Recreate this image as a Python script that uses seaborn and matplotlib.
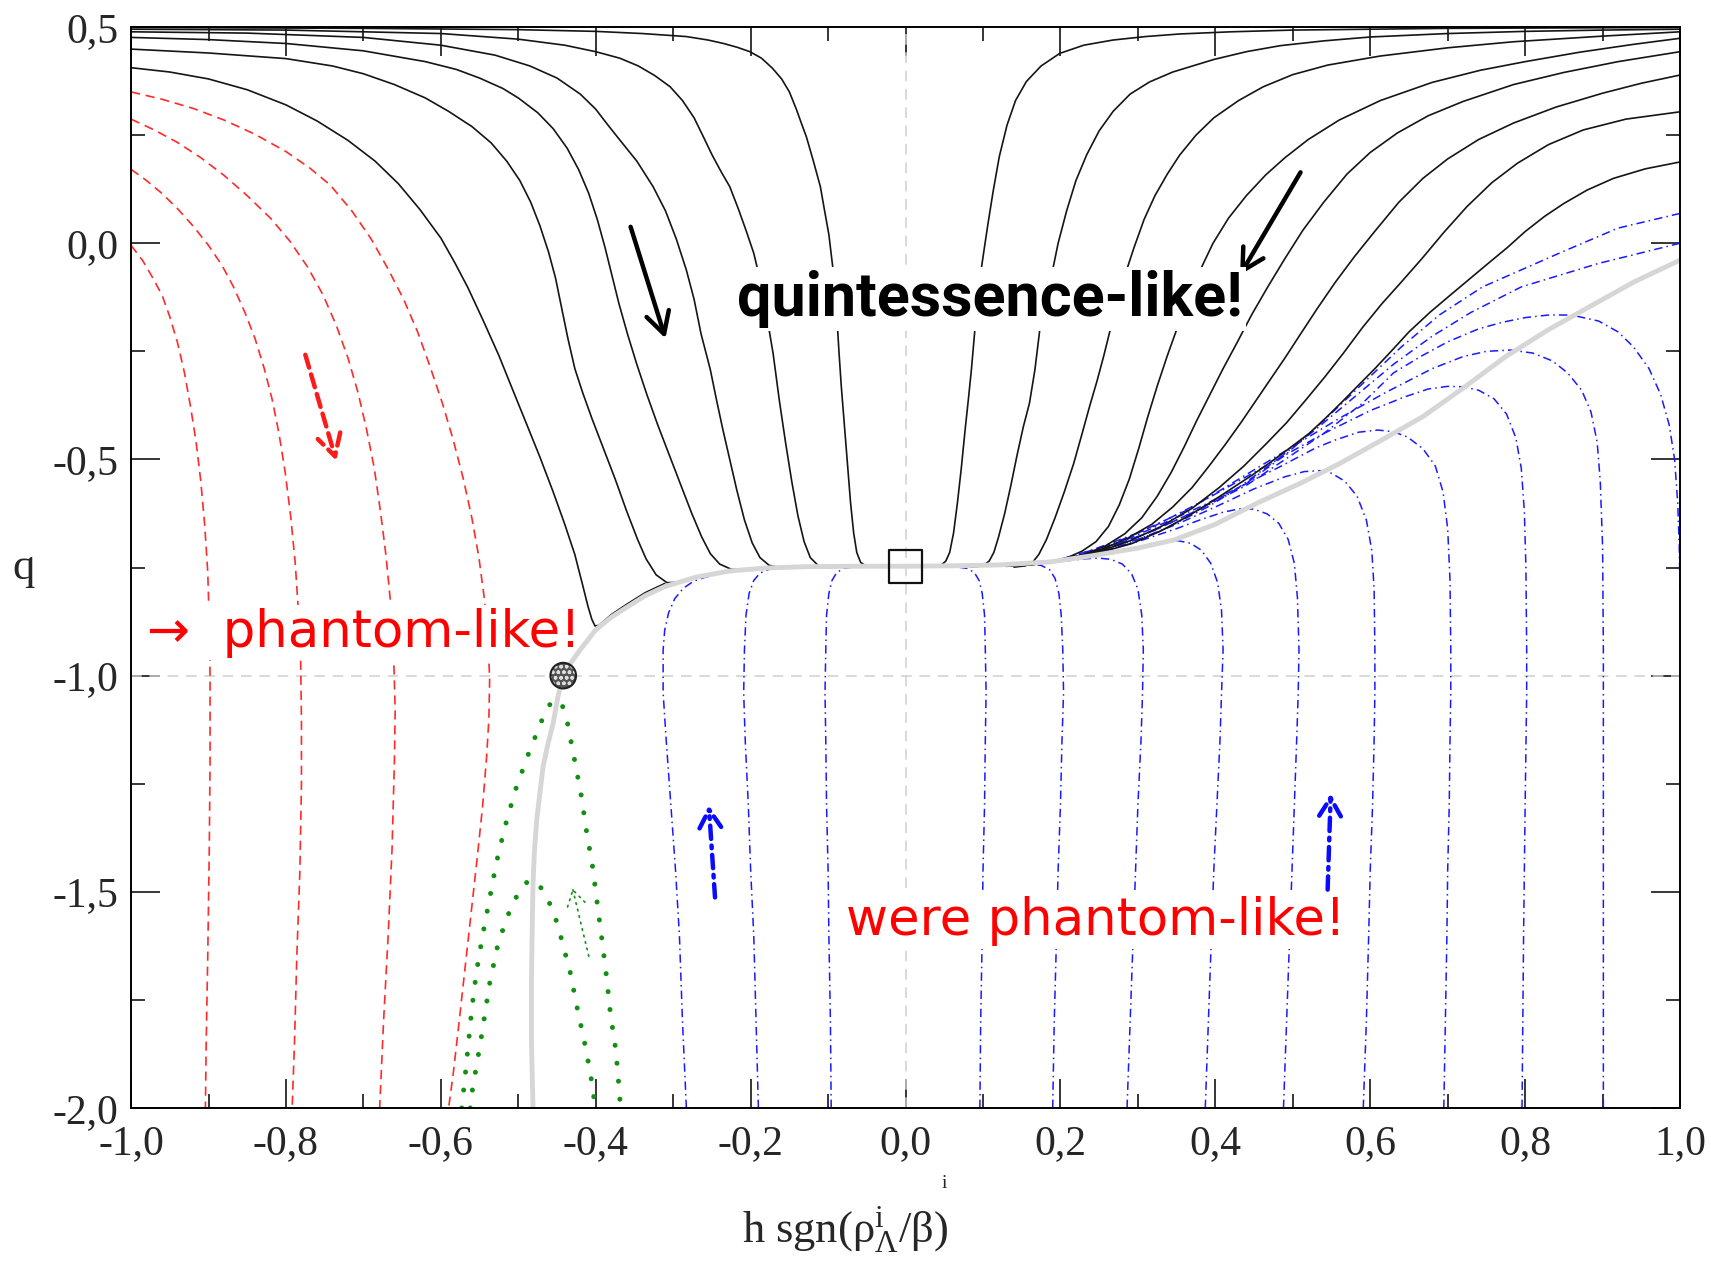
import matplotlib
matplotlib.use("Agg")
import matplotlib.pyplot as plt
import seaborn as sns

# ---------------- tick values ----------------
x_major = [-1.0, -0.8, -0.6, -0.4, -0.2, 0.0, 0.2, 0.4, 0.6, 0.8, 1.0]
x_minor = [-0.9, -0.7, -0.5, -0.3, -0.1, 0.1, 0.3, 0.5, 0.7, 0.9]
y_major = [0.5, 0.0, -0.5, -1.0, -1.5, -2.0]
y_minor = [0.25, -0.25, -0.75, -1.25, -1.75]
x_labels = ["-1,0", "-0,8", "-0,6", "-0,4", "-0,2", "0,0", "0,2", "0,4", "0,6", "0,8", "1,0"]
y_labels = ["0,5", "0,0", "-0,5", "-1,0", "-1,5", "-2,0"]

# ---------------- black trajectories (quintessence-like) ----------------
black_L1 = [(-1.0, 0.406), (-0.95, 0.396), (-0.90, 0.380), (-0.85, 0.355), (-0.80, 0.320),
            (-0.76, 0.283), (-0.72, 0.238), (-0.685, 0.19), (-0.655, 0.138), (-0.627, 0.078),
            (-0.60, 0.012), (-0.582, -0.045), (-0.565, -0.103), (-0.545, -0.18), (-0.525, -0.26),
            (-0.507, -0.34), (-0.49, -0.415), (-0.472, -0.495), (-0.455, -0.575), (-0.44, -0.65),
            (-0.427, -0.72), (-0.417, -0.79), (-0.41, -0.84), (-0.405, -0.87), (-0.401, -0.885),
            (-0.396, -0.884), (-0.38, -0.859), (-0.36, -0.835), (-0.336, -0.808), (-0.311, -0.787)]
black_L2 = [(-1.0, 0.449), (-0.90, 0.440), (-0.80, 0.427), (-0.74, 0.41), (-0.70, 0.392),
            (-0.66, 0.367), (-0.62, 0.336), (-0.59, 0.305), (-0.56, 0.27), (-0.535, 0.232),
            (-0.515, 0.19), (-0.498, 0.145), (-0.484, 0.095), (-0.472, 0.04), (-0.461, -0.02),
            (-0.452, -0.08), (-0.444, -0.15), (-0.436, -0.22), (-0.427, -0.29), (-0.417, -0.345),
            (-0.405, -0.405), (-0.39, -0.475), (-0.375, -0.545), (-0.36, -0.62), (-0.346, -0.685),
            (-0.335, -0.73), (-0.322, -0.767), (-0.308, -0.785), (-0.29, -0.784)]
black_L3 = [(-1.0, 0.476), (-0.90, 0.471), (-0.80, 0.462), (-0.70, 0.445), (-0.62, 0.42),
            (-0.58, 0.402), (-0.55, 0.382), (-0.52, 0.358), (-0.50, 0.336), (-0.475, 0.302),
            (-0.455, 0.265), (-0.437, 0.22), (-0.422, 0.17), (-0.409, 0.115), (-0.398, 0.055),
            (-0.388, -0.01), (-0.379, -0.075), (-0.370, -0.14), (-0.359, -0.21), (-0.347, -0.28),
            (-0.334, -0.35), (-0.32, -0.42), (-0.305, -0.49), (-0.29, -0.56), (-0.276, -0.625),
            (-0.263, -0.68), (-0.252, -0.718), (-0.24, -0.742), (-0.225, -0.754), (-0.205, -0.756)]
black_L4 = [(-1.0, 0.489), (-0.85, 0.486), (-0.70, 0.476), (-0.60, 0.458), (-0.53, 0.435),
            (-0.485, 0.41), (-0.45, 0.382), (-0.42, 0.345), (-0.40, 0.31), (-0.385, 0.275),
            (-0.369, 0.239), (-0.347, 0.19), (-0.326, 0.131), (-0.31, 0.075), (-0.296, 0.01),
            (-0.283, -0.062), (-0.273, -0.13), (-0.264, -0.21), (-0.256, -0.265), (-0.252, -0.293),
            (-0.244, -0.363), (-0.236, -0.43), (-0.227, -0.50), (-0.218, -0.57), (-0.208, -0.64),
            (-0.198, -0.693), (-0.188, -0.727), (-0.176, -0.745), (-0.16, -0.751), (-0.145, -0.750)]
black_L5 = [(-1.0, 0.495), (-0.80, 0.493), (-0.60, 0.485), (-0.50, 0.472), (-0.44, 0.458),
            (-0.40, 0.443), (-0.369, 0.428), (-0.345, 0.41), (-0.324, 0.388), (-0.304, 0.362),
            (-0.288, 0.33), (-0.273, 0.29), (-0.261, 0.246), (-0.25, 0.205), (-0.238, 0.165),
            (-0.227, 0.131), (-0.216, 0.08), (-0.206, 0.03), (-0.196, -0.023), (-0.187, -0.09),
            (-0.179, -0.17), (-0.171, -0.255), (-0.163, -0.363), (-0.155, -0.46), (-0.147, -0.55),
            (-0.139, -0.63), (-0.131, -0.69), (-0.123, -0.727), (-0.113, -0.745), (-0.10, -0.75),
            (-0.085, -0.749)]
black_L6 = [(-1.0, 0.499), (-0.70, 0.497), (-0.50, 0.494), (-0.40, 0.490), (-0.34, 0.485),
            (-0.283, 0.478), (-0.255, 0.47), (-0.235, 0.462), (-0.217, 0.453), (-0.201, 0.443),
            (-0.186, 0.428), (-0.172, 0.405), (-0.16, 0.38), (-0.15, 0.35), (-0.141, 0.31),
            (-0.134, 0.275), (-0.128, 0.246), (-0.119, 0.19), (-0.110, 0.131), (-0.105, 0.08),
            (-0.099, 0.02), (-0.093, -0.070), (-0.089, -0.16), (-0.086, -0.25), (-0.083, -0.33),
            (-0.079, -0.42), (-0.075, -0.51), (-0.071, -0.60), (-0.067, -0.67), (-0.063, -0.715),
            (-0.058, -0.738), (-0.05, -0.748), (-0.038, -0.749)]
black_R1 = [(0.03, -0.749), (0.045, -0.746), (0.052, -0.735), (0.057, -0.715), (0.062, -0.67),
            (0.067, -0.60), (0.072, -0.52), (0.077, -0.43), (0.081, -0.363), (0.085, -0.293),
            (0.090, -0.19), (0.096, -0.081), (0.101, -0.02), (0.106, 0.04), (0.113, 0.119),
            (0.121, 0.20), (0.131, 0.273), (0.142, 0.33), (0.156, 0.374), (0.175, 0.41),
            (0.199, 0.439), (0.23, 0.458), (0.268, 0.470), (0.31, 0.478), (0.354, 0.484),
            (0.42, 0.489), (0.50, 0.493), (0.70, 0.497), (1.0, 0.499)]
black_R2 = [(0.085, -0.749), (0.100, -0.746), (0.108, -0.735), (0.114, -0.715), (0.12, -0.68),
            (0.128, -0.625), (0.136, -0.56), (0.144, -0.49), (0.152, -0.425), (0.160, -0.37),
            (0.167, -0.293), (0.174, -0.19), (0.180, -0.13), (0.189, -0.07), (0.197, 0.0),
            (0.208, 0.075), (0.220, 0.145), (0.234, 0.205), (0.250, 0.26), (0.268, 0.305),
            (0.29, 0.345), (0.315, 0.373), (0.345, 0.396), (0.398, 0.425), (0.44, 0.443),
            (0.484, 0.457), (0.54, 0.468), (0.600, 0.477), (0.70, 0.485), (0.80, 0.490),
            (0.90, 0.493), (1.0, 0.495)]
black_R3 = [(0.14, -0.749), (0.155, -0.746), (0.164, -0.738), (0.172, -0.72), (0.182, -0.685),
            (0.193, -0.635), (0.205, -0.575), (0.217, -0.51), (0.228, -0.44), (0.238, -0.375),
            (0.247, -0.32), (0.256, -0.26), (0.265, -0.195), (0.274, -0.13), (0.284, -0.07),
            (0.295, -0.01), (0.308, 0.055), (0.322, 0.11), (0.338, 0.16), (0.354, 0.204),
            (0.375, 0.25), (0.398, 0.29), (0.43, 0.33), (0.462, 0.362), (0.50, 0.39),
            (0.545, 0.412), (0.613, 0.433), (0.70, 0.452), (0.785, 0.466), (0.90, 0.479), (1.0, 0.489)]
black_R4 = [(0.13, -0.747), (0.16, -0.744), (0.185, -0.738), (0.208, -0.728), (0.228, -0.712),
            (0.246, -0.69), (0.262, -0.655), (0.276, -0.605), (0.289, -0.545), (0.301, -0.475),
            (0.313, -0.40), (0.325, -0.33), (0.338, -0.26), (0.352, -0.19), (0.366, -0.125),
            (0.381, -0.06), (0.397, 0.0), (0.417, 0.058), (0.44, 0.11), (0.465, 0.158),
            (0.49, 0.198), (0.52, 0.24), (0.56, 0.285), (0.613, 0.33), (0.68, 0.372),
            (0.742, 0.400), (0.80, 0.42), (0.871, 0.442), (0.94, 0.46), (1.0, 0.474)]
black_R5 = [(0.13, -0.747), (0.165, -0.743), (0.20, -0.733), (0.23, -0.72), (0.258, -0.70),
            (0.283, -0.672), (0.305, -0.635), (0.325, -0.585), (0.343, -0.53), (0.36, -0.47),
            (0.376, -0.41), (0.393, -0.35), (0.41, -0.29), (0.428, -0.23), (0.447, -0.165),
            (0.468, -0.10), (0.49, -0.035), (0.513, 0.03), (0.54, 0.095), (0.57, 0.16),
            (0.60, 0.21), (0.635, 0.255), (0.675, 0.295), (0.72, 0.328), (0.785, 0.367),
            (0.85, 0.395), (0.92, 0.42), (1.0, 0.443)]
black_R6 = [(0.13, -0.747), (0.17, -0.742), (0.21, -0.73), (0.25, -0.71), (0.285, -0.684),
            (0.318, -0.65), (0.345, -0.61), (0.37, -0.565), (0.392, -0.515), (0.413, -0.465),
            (0.433, -0.415), (0.452, -0.365), (0.471, -0.315), (0.49, -0.265), (0.51, -0.21),
            (0.532, -0.15), (0.555, -0.09), (0.58, -0.03), (0.607, 0.03), (0.637, 0.095),
            (0.668, 0.15), (0.70, 0.195), (0.74, 0.24), (0.785, 0.278), (0.84, 0.315),
            (0.90, 0.347), (0.95, 0.37), (1.0, 0.389)]
black_R7 = [(0.13, -0.747), (0.17, -0.742), (0.21, -0.731), (0.25, -0.713), (0.29, -0.688),
            (0.33, -0.655), (0.37, -0.613), (0.405, -0.565), (0.437, -0.515), (0.465, -0.465),
            (0.492, -0.415), (0.517, -0.362), (0.541, -0.31), (0.565, -0.255), (0.59, -0.195),
            (0.615, -0.14), (0.64, -0.09), (0.667, -0.035), (0.695, 0.025), (0.725, 0.085),
            (0.757, 0.14), (0.79, 0.185), (0.83, 0.228), (0.875, 0.262), (0.93, 0.287), (1.0, 0.304)]
black_R8 = [(0.11, -0.747), (0.15, -0.744), (0.19, -0.737), (0.24, -0.721), (0.293, -0.694),
            (0.33, -0.665), (0.363, -0.633), (0.395, -0.598), (0.423, -0.565), (0.447, -0.537),
            (0.47, -0.508), (0.495, -0.475), (0.521, -0.44), (0.542, -0.405), (0.563, -0.368),
            (0.585, -0.328), (0.606, -0.29), (0.628, -0.248), (0.65, -0.205), (0.677, -0.16),
            (0.704, -0.119), (0.728, -0.083), (0.752, -0.047), (0.777, -0.01), (0.80, 0.027),
            (0.825, 0.062), (0.85, 0.092), (0.88, 0.123), (0.914, 0.150), (0.955, 0.172), (1.0, 0.188)]

# ---------------- red dashed trajectories ----------------
red_1 = [(-1.0, 0.350), (-0.96, 0.333), (-0.92, 0.312), (-0.88, 0.285), (-0.84, 0.252),
         (-0.80, 0.212), (-0.77, 0.175), (-0.743, 0.135), (-0.715, 0.075), (-0.69, 0.01),
         (-0.668, -0.06), (-0.648, -0.13), (-0.630, -0.205), (-0.614, -0.285), (-0.598, -0.37),
         (-0.584, -0.455), (-0.571, -0.545), (-0.560, -0.635), (-0.551, -0.725), (-0.544, -0.82),
         (-0.539, -0.915), (-0.537, -1.01), (-0.538, -1.10), (-0.541, -1.19), (-0.546, -1.30),
         (-0.553, -1.42), (-0.561, -1.55), (-0.569, -1.68), (-0.577, -1.81), (-0.584, -1.92),
         (-0.590, -2.0)]
red_2 = [(-1.0, 0.287), (-0.97, 0.262), (-0.94, 0.233), (-0.91, 0.198), (-0.88, 0.157),
         (-0.85, 0.11), (-0.82, 0.058), (-0.795, 0.005), (-0.772, -0.055), (-0.752, -0.12),
         (-0.735, -0.19), (-0.72, -0.265), (-0.707, -0.345), (-0.696, -0.43), (-0.686, -0.52),
         (-0.678, -0.62), (-0.671, -0.72), (-0.665, -0.83), (-0.661, -0.95), (-0.659, -1.08),
         (-0.660, -1.2), (-0.663, -1.4), (-0.668, -1.6), (-0.674, -1.8), (-0.679, -2.0)]
red_3 = [(-1.0, 0.171), (-0.98, 0.145), (-0.96, 0.115), (-0.94, 0.08), (-0.92, 0.04),
         (-0.90, -0.005), (-0.883, -0.05), (-0.868, -0.10), (-0.853, -0.16), (-0.840, -0.22),
         (-0.828, -0.29), (-0.818, -0.36), (-0.809, -0.44), (-0.801, -0.53), (-0.794, -0.63),
         (-0.788, -0.74), (-0.784, -0.85), (-0.781, -0.97), (-0.780, -1.1), (-0.780, -1.25),
         (-0.782, -1.45), (-0.786, -1.65), (-0.789, -1.85), (-0.792, -2.0)]
red_4 = [(-1.0, -0.005), (-0.985, -0.04), (-0.972, -0.08), (-0.960, -0.12), (-0.950, -0.17),
         (-0.940, -0.23), (-0.931, -0.30), (-0.923, -0.38), (-0.916, -0.46), (-0.910, -0.55),
         (-0.905, -0.65), (-0.901, -0.76), (-0.899, -0.88), (-0.898, -1.0), (-0.898, -1.2),
         (-0.899, -1.4), (-0.901, -1.65), (-0.903, -1.85), (-0.904, -2.0)]

# ---------------- blue dash-dot trajectories (were phantom-like) ----------------
blue_L1 = [(-0.283, -2.0), (-0.288, -1.8), (-0.292, -1.6), (-0.297, -1.45), (-0.303, -1.3),
           (-0.309, -1.15), (-0.313, -1.04), (-0.313, -0.94), (-0.311, -0.895), (-0.306, -0.855),
           (-0.298, -0.822), (-0.287, -0.798), (-0.274, -0.782), (-0.258, -0.772), (-0.24, -0.765)]
blue_L2 = [(-0.190, -2.0), (-0.193, -1.8), (-0.196, -1.6), (-0.200, -1.45), (-0.203, -1.3),
           (-0.207, -1.15), (-0.209, -1.04), (-0.208, -0.94), (-0.206, -0.86), (-0.202, -0.81),
           (-0.196, -0.78), (-0.188, -0.763), (-0.176, -0.754), (-0.16, -0.750)]
blue_L3 = [(-0.096, -2.0), (-0.097, -1.8), (-0.099, -1.6), (-0.100, -1.45), (-0.102, -1.3),
           (-0.103, -1.15), (-0.104, -1.04), (-0.103, -0.94), (-0.102, -0.86), (-0.099, -0.81),
           (-0.095, -0.78), (-0.089, -0.762), (-0.08, -0.752), (-0.068, -0.749)]
blue_R1 = [(0.096, -2.0), (0.097, -1.8), (0.099, -1.6), (0.100, -1.45), (0.102, -1.3),
           (0.103, -1.15), (0.104, -1.04), (0.103, -0.94), (0.102, -0.86), (0.099, -0.81),
           (0.095, -0.78), (0.089, -0.762), (0.08, -0.752), (0.068, -0.749)]
blue_R2 = [(0.190, -2.0), (0.192, -1.8), (0.195, -1.6), (0.197, -1.45), (0.200, -1.3),
           (0.202, -1.15), (0.204, -1.04), (0.203, -0.94), (0.201, -0.86), (0.198, -0.81),
           (0.193, -0.775), (0.186, -0.755), (0.175, -0.745), (0.16, -0.742)]
blue_R3 = [(0.286, -2.0), (0.290, -1.8), (0.294, -1.6), (0.297, -1.45), (0.300, -1.3),
           (0.304, -1.15), (0.306, -1.04), (0.307, -0.94), (0.305, -0.86), (0.300, -0.80),
           (0.292, -0.765), (0.280, -0.742), (0.265, -0.731), (0.248, -0.728), (0.23, -0.730),
           (0.20, -0.736), (0.16, -0.742), (0.12, -0.746)]
blue_R4 = [(0.387, -2.0), (0.391, -1.8), (0.395, -1.6), (0.398, -1.45), (0.402, -1.3),
           (0.406, -1.15), (0.408, -1.04), (0.410, -0.94), (0.408, -0.85), (0.403, -0.785),
           (0.394, -0.74), (0.382, -0.71), (0.368, -0.694), (0.352, -0.688), (0.335, -0.69),
           (0.31, -0.70), (0.28, -0.712), (0.25, -0.722), (0.20, -0.735), (0.15, -0.743),
           (0.11, -0.746)]
blue_R5 = [(0.488, -2.0), (0.492, -1.8), (0.496, -1.6), (0.499, -1.45), (0.502, -1.3),
           (0.505, -1.15), (0.507, -1.04), (0.508, -0.94), (0.506, -0.82), (0.502, -0.74),
           (0.494, -0.685), (0.482, -0.648), (0.467, -0.626), (0.45, -0.615), (0.432, -0.614),
           (0.41, -0.622), (0.38, -0.64), (0.35, -0.66), (0.30, -0.69), (0.25, -0.715),
           (0.20, -0.734), (0.15, -0.743), (0.11, -0.746)]
blue_R6 = [(0.591, -2.0), (0.595, -1.8), (0.598, -1.6), (0.600, -1.45), (0.603, -1.3),
           (0.605, -1.15), (0.606, -1.04), (0.606, -0.94), (0.605, -0.80), (0.602, -0.71),
           (0.595, -0.64), (0.583, -0.585), (0.567, -0.55), (0.55, -0.532), (0.535, -0.526),
           (0.515, -0.528), (0.49, -0.54), (0.45, -0.568), (0.40, -0.61), (0.35, -0.65),
           (0.30, -0.685), (0.25, -0.712), (0.20, -0.733), (0.15, -0.743), (0.11, -0.746)]
blue_R7 = [(0.695, -2.0), (0.697, -1.8), (0.699, -1.6), (0.700, -1.45), (0.702, -1.3),
           (0.703, -1.15), (0.704, -1.04), (0.704, -0.94), (0.703, -0.78), (0.700, -0.66),
           (0.694, -0.575), (0.684, -0.515), (0.668, -0.475), (0.648, -0.448), (0.63, -0.436),
           (0.61, -0.432), (0.585, -0.437), (0.555, -0.455), (0.53, -0.473), (0.48, -0.52),
           (0.43, -0.565), (0.38, -0.61), (0.33, -0.65), (0.28, -0.69), (0.23, -0.72),
           (0.19, -0.736), (0.15, -0.743), (0.11, -0.746)]
blue_R8 = [(0.796, -2.0), (0.798, -1.6), (0.800, -1.3), (0.802, -1.04), (0.802, -0.94),
           (0.801, -0.75), (0.799, -0.62), (0.795, -0.52), (0.788, -0.45), (0.776, -0.395),
           (0.76, -0.36), (0.74, -0.34), (0.72, -0.332), (0.70, -0.331), (0.675, -0.337),
           (0.645, -0.355), (0.60, -0.387), (0.54, -0.44), (0.48, -0.50), (0.42, -0.56),
           (0.36, -0.62), (0.30, -0.67), (0.24, -0.71), (0.19, -0.736), (0.15, -0.743),
           (0.11, -0.746)]
blue_R9 = [(0.901, -2.0), (0.901, -1.6), (0.901, -1.3), (0.901, -1.04), (0.901, -0.94),
           (0.900, -0.70), (0.897, -0.55), (0.893, -0.46), (0.885, -0.39), (0.873, -0.34),
           (0.855, -0.300), (0.835, -0.272), (0.81, -0.254), (0.781, -0.247), (0.75, -0.250),
           (0.72, -0.262), (0.68, -0.29), (0.62, -0.345), (0.56, -0.405), (0.50, -0.47),
           (0.44, -0.535), (0.38, -0.60), (0.32, -0.655), (0.26, -0.70), (0.19, -0.736),
           (0.15, -0.743), (0.11, -0.746)]
blue_R10 = [(1.0, -0.80), (0.999, -0.70), (0.997, -0.60), (0.993, -0.50), (0.986, -0.42),
            (0.975, -0.35), (0.96, -0.29), (0.94, -0.24), (0.92, -0.205), (0.895, -0.18),
            (0.86, -0.166), (0.83, -0.166), (0.80, -0.172), (0.77, -0.183), (0.74, -0.198),
            (0.70, -0.228), (0.665, -0.262), (0.63, -0.30), (0.59, -0.37), (0.54, -0.44),
            (0.49, -0.50), (0.44, -0.56), (0.38, -0.615), (0.32, -0.665), (0.26, -0.705),
            (0.19, -0.737), (0.15, -0.743), (0.11, -0.746)]
blue_U1 = [(1.0, 0.069), (0.92, 0.035), (0.844, -0.023), (0.745, -0.101), (0.69, -0.165),
           (0.64, -0.24), (0.59, -0.325), (0.54, -0.41), (0.49, -0.49), (0.44, -0.555),
           (0.39, -0.61), (0.33, -0.665), (0.27, -0.705), (0.19, -0.738), (0.15, -0.743),
           (0.11, -0.746)]
blue_U2 = [(1.0, 0.0), (0.894, -0.047), (0.795, -0.101), (0.73, -0.16), (0.68, -0.215),
           (0.63, -0.28), (0.58, -0.355), (0.53, -0.43), (0.48, -0.50), (0.43, -0.565),
           (0.38, -0.615), (0.32, -0.665), (0.26, -0.705), (0.19, -0.737), (0.15, -0.743),
           (0.11, -0.746)]

# ---------------- green dotted trajectories ----------------
green_outer = [(-0.573, -2.0), (-0.567, -1.897), (-0.560, -1.770), (-0.554, -1.685), (-0.546, -1.600),
               (-0.537, -1.515), (-0.528, -1.430), (-0.517, -1.348), (-0.504, -1.266), (-0.488, -1.186),
               (-0.470, -1.105), (-0.459, -1.066), (-0.451, -1.056), (-0.444, -1.064), (-0.437, -1.105),
               (-0.428, -1.189), (-0.419, -1.274), (-0.412, -1.359), (-0.404, -1.443), (-0.398, -1.528),
               (-0.392, -1.611), (-0.386, -1.698), (-0.381, -1.783), (-0.374, -1.867), (-0.370, -1.952),
               (-0.368, -2.0)]
green_inner = [(-0.562, -2.0), (-0.560, -1.966), (-0.548, -1.839), (-0.537, -1.712), (-0.527, -1.627),
               (-0.520, -1.588), (-0.512, -1.548), (-0.502, -1.510), (-0.489, -1.478), (-0.478, -1.474),
               (-0.468, -1.497), (-0.457, -1.536), (-0.449, -1.577), (-0.443, -1.618), (-0.437, -1.659),
               (-0.431, -1.700), (-0.427, -1.743), (-0.422, -1.785), (-0.417, -1.827), (-0.412, -1.870),
               (-0.408, -1.911), (-0.404, -1.951), (-0.401, -2.0)]

# ---------------- grey attractor ----------------
attractor = [(-0.481, -2.0), (-0.483, -1.85), (-0.483, -1.70), (-0.482, -1.58), (-0.481, -1.48),
             (-0.479, -1.40), (-0.476, -1.33), (-0.472, -1.27), (-0.468, -1.21), (-0.462, -1.16),
             (-0.455, -1.11), (-0.449, -1.05), (-0.442, -1.0), (-0.432, -0.97), (-0.420, -0.94),
             (-0.400, -0.894), (-0.38, -0.865), (-0.361, -0.843), (-0.336, -0.815), (-0.311, -0.794),
             (-0.27, -0.772), (-0.227, -0.758), (-0.18, -0.751), (-0.128, -0.748), (-0.06, -0.747),
             (0.0, -0.747), (0.06, -0.746), (0.12, -0.744), (0.187, -0.737), (0.24, -0.723),
             (0.30, -0.705), (0.347, -0.686), (0.40, -0.65), (0.454, -0.601), (0.51, -0.555),
             (0.561, -0.509), (0.615, -0.455), (0.668, -0.401), (0.72, -0.335), (0.775, -0.262),
             (0.83, -0.20), (0.883, -0.147), (0.94, -0.09), (1.0, -0.039)]

fixed_point = (0.0, -0.747)
critical_point = (-0.442, -1.0)

# flow arrows: (start, end)
black_arrows = [((-0.355, 0.038), (-0.310, -0.220)), ((0.510, 0.164), (0.432, -0.073))]
red_arrow = ((-0.775, -0.258), (-0.735, -0.503))
blue_arrows = [((-0.246, -1.513), (-0.254, -1.30)), ((0.545, -1.495), (0.549, -1.273))]
green_arrow = ((-0.409, -1.649), (-0.430, -1.492))

black_curves = [black_L1, black_L2, black_L3, black_L4, black_L5, black_L6,
                black_R1, black_R2, black_R3, black_R4, black_R5, black_R6, black_R7, black_R8]
red_curves = [red_1, red_2, red_3, red_4]
blue_curves = [blue_L1, blue_L2, blue_L3, blue_R1, blue_R2, blue_R3, blue_R4, blue_R5,
               blue_R6, blue_R7, blue_R8, blue_R9, blue_R10, blue_U1, blue_U2]
green_curves = [green_outer, green_inner]

# ---------------- figure ----------------
sns.set_theme(style="ticks")
plt.rcParams["font.family"] = ["Liberation Serif", "DejaVu Serif"]
plt.rcParams["mathtext.fontset"] = "custom"
plt.rcParams["mathtext.rm"] = "Liberation Serif"
plt.rcParams["mathtext.it"] = "Liberation Serif:italic"

fig = plt.figure(figsize=(17.11, 12.64), dpi=100)
ax = fig.add_axes([0.0766, 0.1234, 0.9053, 0.8552])


def draw(pts, **kw):
    xs = [p[0] for p in pts]
    ys = [p[1] for p in pts]
    sns.lineplot(x=xs, y=ys, sort=False, estimator=None, ax=ax, **kw)


ax.axvline(0.0, color="#cfcfcf", lw=1.1, linestyle=(0, (7, 5)), zorder=1)
ax.axhline(-1.0, color="#cfcfcf", lw=1.1, linestyle=(0, (7, 5)), zorder=1)

for c in red_curves:
    draw(c, color="#ff2a2a", lw=1.2, linestyle=(0, (5.5, 3.5)), zorder=2)
for c in blue_curves:
    draw(c, color="#1a1aff", lw=1.1, linestyle=(0, (5.5, 2.7, 1, 2.7)), zorder=2)
for c in green_curves:
    draw(c, color="#129012", lw=3.6, linestyle=(0, (0.01, 3.6)),
         dash_capstyle="round", zorder=2)
for c in black_curves:
    draw(c, color="#151515", lw=1.2, zorder=3)
# the attractor sits on top of everything except the markers
draw(attractor, color="#d6d6d6", lw=3.5, zorder=11)

# fixed points
ax.scatter([fixed_point[0]], [fixed_point[1]], s=560, marker="s", facecolor="none",
           edgecolor="#111111", linewidth=1.6, zorder=12)
ax.scatter([critical_point[0]], [critical_point[1]], s=340, marker="o", facecolor="#555555",
           edgecolor="#dddddd", hatch="ooo", linewidth=0, zorder=12)
ax.scatter([critical_point[0]], [critical_point[1]], s=340, marker="o", facecolor="none",
           edgecolor="#222222", linewidth=1.5, zorder=13)

# arrows
for a, b in black_arrows:
    ax.annotate("", xy=b, xytext=a, zorder=7,
                arrowprops=dict(arrowstyle="->,head_length=0.55,head_width=0.3", lw=3.2,
                                color="black", mutation_scale=28, shrinkA=0, shrinkB=0))
ax.annotate("", xy=red_arrow[1], xytext=red_arrow[0], zorder=7,
            arrowprops=dict(arrowstyle="->,head_length=0.55,head_width=0.3", lw=3.2,
                            color="#ff1a1a", linestyle=(0, (3, 1.6)), mutation_scale=28,
                            shrinkA=0, shrinkB=0))
for a, b in blue_arrows:
    ax.annotate("", xy=b, xytext=a, zorder=7,
                arrowprops=dict(arrowstyle="->,head_length=0.5,head_width=0.3", lw=3.2,
                                color="#0a0aff", linestyle=(0, (3, 1.5, 0.6, 1.5)),
                                mutation_scale=26, shrinkA=0, shrinkB=0))
ax.annotate("", xy=green_arrow[1], xytext=green_arrow[0], zorder=7,
            arrowprops=dict(arrowstyle="->,head_length=0.5,head_width=0.3", lw=1.2,
                            color="#129012", linestyle=(0, (1, 3)), mutation_scale=22,
                            shrinkA=0, shrinkB=0))

# region labels
box = dict(boxstyle="square,pad=0.05", facecolor="white", edgecolor="none")
ax.text(-0.218, -0.169, "quintessence-like!", fontfamily="Roboto", fontweight="bold",
        fontsize=44, color="black", ha="left", va="baseline", bbox=box, zorder=10)
ax.text(-0.979, -0.933, "\u2192  phantom-like!", fontfamily="DejaVu Sans",
        fontsize=37, color="#ff0000", ha="left", va="baseline", bbox=box, zorder=10)
ax.text(-0.077, -1.600, "were phantom-like!", fontfamily="DejaVu Sans",
        fontsize=37, color="#ff0000", ha="left", va="baseline", bbox=box, zorder=10)

# axes styling
ax.set_xlim(-1.0, 1.0)
ax.set_ylim(-2.0, 0.5)
ax.set_xticks(x_major)
ax.set_xticklabels(x_labels)
ax.set_xticks(x_minor, minor=True)
ax.set_yticks(y_major)
ax.set_yticklabels(y_labels)
ax.set_yticks(y_minor, minor=True)
ax.tick_params(which="both", direction="in", top=True, right=True, width=1.1, color="black")
ax.tick_params(which="major", length=21)
ax.tick_params(which="minor", length=10)
ax.tick_params(axis="x", which="major", labelsize=30, pad=12)
ax.tick_params(axis="y", which="major", labelsize=30, pad=9)
for sp in ax.spines.values():
    sp.set_linewidth(1.4)
    sp.set_color("black")
    sp.set_zorder(14)
ax.set_xlabel("")
ax.set_ylabel("")

fig.text(0.014, 0.551, "q", fontsize=32, ha="center", va="center")
fig.text(0.494, 0.016, "h sgn(\u03c1$^{\\mathrm{i}}_{\\mathrm{\u039b}}$/\u03b2)",
         fontsize=32, ha="center", va="baseline")
fig.text(0.5517, 0.0633, "i", fontsize=14, ha="center", va="center")

fig.savefig("out.png", dpi=100)
